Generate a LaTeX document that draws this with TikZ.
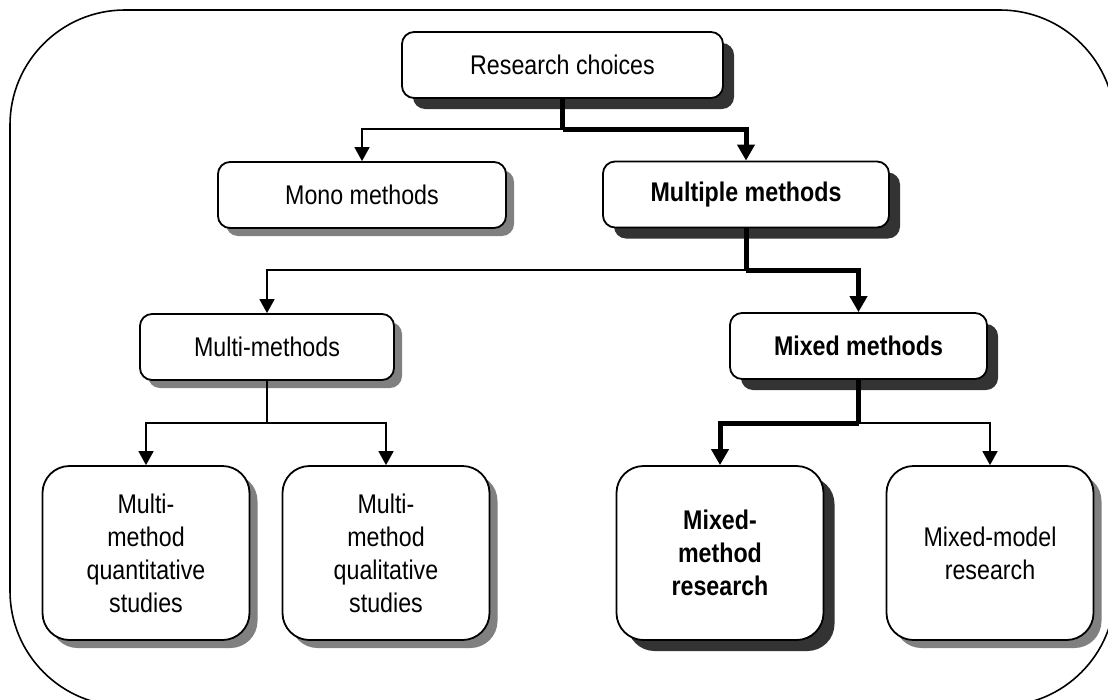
\documentclass[tikz,border=0pt]{standalone}
\usepackage{fontspec}
\setmainfont{Liberation Sans}[FakeStretch=0.86]
\usetikzlibrary{arrows.meta,shadows}

\definecolor{shadowdark}{HTML}{333333}
\definecolor{shadowlight}{HTML}{808080}

\tikzset{
  box/.style={draw, line width=1.8pt, fill=white, rounded corners=12pt,
    inner sep=0pt, align=center, font=\fontsize{27}{33}\selectfont},
  tallbox/.style={box, rounded corners=27pt, minimum width=207pt, minimum height=174pt},
  lightshadow/.style={general shadow={fill=shadowlight, shadow xshift=8pt, shadow yshift=-8pt}},
  darkshadow/.style={general shadow={fill=shadowdark, shadow xshift=11pt, shadow yshift=-11pt}},
  emph/.style={font=\fontsize{27}{33}\selectfont\bfseries},
  thinlink/.style={line width=1.6pt, -{Triangle[length=14pt,width=15pt]}},
  thicklink/.style={line width=5pt, -{Triangle[length=16pt,width=17pt]}},
  thickseg/.style={line width=5pt}
}

\begin{document}
\begin{tikzpicture}[x=1pt,y=-1pt]
  \clip (0,0) rectangle (1108,699);
  \fill[white] (0,0) rectangle (1108,699);

  % enclosing frame
  \draw[line width=1.6pt, rounded corners=115pt] (10,10) rectangle (1115,706);

  % tree nodes
  \node[box, darkshadow, minimum width=321pt, minimum height=66pt] (rc) at (562.5,65) {Research choices};
  \node[box, lightshadow, minimum width=288pt, minimum height=66pt] (mono) at (362,195) {Mono methods};
  \node[box, darkshadow, emph, minimum width=286pt, minimum height=66pt] (mult) at (746,194.5) {Multiple methods};
  \node[box, lightshadow, minimum width=254pt, minimum height=66pt] (mm) at (267,347) {Multi-methods};
  \node[box, darkshadow, emph, minimum width=257pt, minimum height=66pt] (mix) at (858.5,346) {Mixed methods};
  \node[tallbox, lightshadow] (quant) at (146,553) {Multi-\\method\\quantitative\\studies};
  \node[tallbox, lightshadow] (qual) at (386,553) {Multi-\\method\\qualitative\\studies};
  \node[tallbox, darkshadow, emph] (mmr) at (720,553) {Mixed-\\method\\research};
  \node[tallbox, lightshadow] (mmod) at (990,553) {Mixed-model\\research};

  % branch points
  \coordinate (j1) at (rc.south |- 0,129);
  \coordinate (j2) at (mult.south |- 0,270);
  \coordinate (j3) at (mm.south |- 0,423);
  \coordinate (j4) at (mix.south |- 0,423);

  % connectors
  \draw[thinlink] (j1) -| (mono.north);
  \draw[thickseg] (rc.south) -- (j1);
  \draw[thicklink] (j1) -| (mult.north);

  \draw[thinlink] (j2) -| (mm.north);
  \draw[thickseg] (mult.south) -- (j2);
  \draw[thicklink] (j2) -| (mix.north);

  \draw[line width=1.6pt] (mm.south) -- (j3);
  \draw[thinlink] (j3) -| (quant.north);
  \draw[thinlink] (j3) -| (qual.north);

  \draw[thinlink] (j4) -| (mmod.north);
  \draw[thickseg] (mix.south) -- (j4);
  \draw[thicklink] (j4) -| (mmr.north);
\end{tikzpicture}
\end{document}
